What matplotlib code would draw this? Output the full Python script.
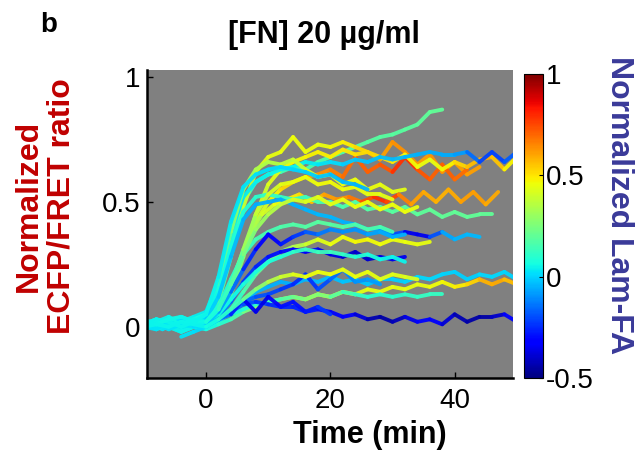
import numpy as np
import matplotlib
matplotlib.use("Agg")
import matplotlib.pyplot as plt
from matplotlib.collections import LineCollection
from matplotlib.colors import Normalize
from matplotlib.cm import ScalarMappable

plt.rcParams["font.family"] = ["Liberation Sans", "DejaVu Sans"]

# time step between frames (min)
STEP = 2.0

# first time point of each cell trace (min)
START_MIN = [-10, -10, -10, -10, -10, -10, -9, -10, -10, -10, -10, -10,
             -10, -10, -10, -10, -10, -10, -10, -4, -10, -10, -10, -10]

# normalized ECFP/FRET ratio per cell, one value per frame
RATIO = [
    [0.02, 0.00, 0.03, 0.01, 0.02, 0.04, 0.14, 0.33, 0.50, 0.58, 0.61, 0.62, 0.64, 0.63, 0.66,
     0.68, 0.70, 0.72, 0.74, 0.76, 0.77, 0.79, 0.81, 0.86, 0.87],
    [0.00, 0.02, 0.01, 0.03, 0.01, 0.03, 0.10, 0.28, 0.48, 0.62, 0.68, 0.70, 0.76, 0.70, 0.73,
     0.72, 0.74, 0.72, 0.70, 0.67, 0.74, 0.70, 0.65, 0.69, 0.62, 0.66, 0.61, 0.64],
    [-0.01, 0.01, 0.00, 0.02, 0.00, 0.01, 0.05, 0.15, 0.30, 0.42, 0.50, 0.55, 0.58, 0.60, 0.61,
     0.63, 0.60, 0.68, 0.62, 0.65, 0.62, 0.68, 0.63, 0.59, 0.65, 0.59, 0.63],
    [0.01, 0.03, 0.00, 0.02, 0.03, 0.02, 0.05, 0.13, 0.28, 0.45, 0.57, 0.63, 0.66, 0.68, 0.70,
     0.68, 0.71, 0.69, 0.70, 0.68, 0.66, 0.69, 0.64, 0.67, 0.63, 0.66, 0.64, 0.67, 0.68, 0.63, 0.68],
    [0.02, 0.01, 0.03, 0.02, 0.04, 0.06, 0.18, 0.38, 0.52, 0.58, 0.61, 0.63, 0.64, 0.66, 0.65,
     0.66, 0.65, 0.67, 0.66, 0.68, 0.67, 0.68, 0.69, 0.70, 0.69, 0.69, 0.70, 0.66, 0.70, 0.66, 0.70],
    [0.00, 0.02, 0.04, 0.01, 0.03, 0.05, 0.17, 0.38, 0.55, 0.63, 0.66, 0.65, 0.67, 0.63, 0.60,
     0.61, 0.57, 0.59, 0.55, 0.57, 0.54, 0.55],
    [0.01, -0.01, 0.02, 0.00, 0.02, 0.03, 0.10, 0.24, 0.37, 0.45, 0.49, 0.51, 0.53, 0.50, 0.53,
     0.51, 0.52, 0.50, 0.52, 0.50, 0.53, 0.49, 0.54, 0.50, 0.55, 0.50, 0.54, 0.49, 0.54],
    [0.03, 0.01, 0.02, 0.04, 0.02, 0.04, 0.14, 0.32, 0.46, 0.52, 0.53, 0.52, 0.51, 0.52, 0.50,
     0.50, 0.48, 0.50, 0.47, 0.48, 0.46, 0.48, 0.45, 0.47, 0.44, 0.46, 0.44, 0.45, 0.45],
    [0.00, -0.01, 0.01, 0.00, 0.02, 0.01, 0.06, 0.16, 0.31, 0.45, 0.53, 0.57, 0.58, 0.60, 0.57,
     0.58, 0.55, 0.56, 0.53, 0.53, 0.51],
    [0.01, 0.03, 0.01, 0.00, 0.02, 0.03, 0.12, 0.28, 0.43, 0.49, 0.50, 0.51, 0.49, 0.47, 0.45,
     0.44, 0.42, 0.41, 0.39, 0.39, 0.37, 0.38, 0.37, 0.36, 0.38, 0.35, 0.37, 0.36],
    [-0.01, 0.01, 0.00, -0.02, 0.00, 0.00, 0.03, 0.07, 0.14, 0.21, 0.26, 0.30, 0.32, 0.33, 0.35,
     0.33, 0.36, 0.34, 0.35, 0.33, 0.35, 0.34, 0.33, 0.34],
    [0.02, 0.00, 0.01, 0.03, 0.01, 0.01, 0.04, 0.10, 0.18, 0.24, 0.28, 0.30, 0.31, 0.30, 0.31,
     0.29, 0.28, 0.30, 0.27, 0.28, 0.27, 0.28],
    [0.00, 0.02, 0.03, 0.01, 0.03, 0.02, 0.05, 0.11, 0.17, 0.22, 0.26, 0.28, 0.30, 0.31, 0.30,
     0.30, 0.29, 0.28, 0.29, 0.27, 0.28, 0.26],
    [0.01, 0.02, 0.00, 0.02, 0.01, 0.02, 0.08, 0.19, 0.29, 0.35, 0.38, 0.40, 0.41, 0.40, 0.42,
     0.41, 0.40, 0.41, 0.39, 0.40, 0.38],
    [0.00, 0.02, 0.01, -0.01, 0.01, 0.00, 0.02, 0.06, 0.10, 0.14, 0.16, 0.18, 0.17, 0.19, 0.18,
     0.20, 0.18, 0.19, 0.17, 0.19, 0.19, 0.18, 0.20, 0.19, 0.21, 0.22, 0.19, 0.21, 0.20, 0.22, 0.19],
    [-0.01, 0.01, 0.00, -0.02, 0.00, -0.01, 0.01, 0.03, 0.06, 0.08, 0.10, 0.11, 0.12, 0.11, 0.13,
     0.12, 0.14, 0.13, 0.15, 0.14, 0.16, 0.15, 0.17, 0.16, 0.18, 0.16, 0.17, 0.19, 0.17, 0.19, 0.17],
    [0.02, 0.00, 0.02, 0.01, 0.00, 0.02, 0.03, 0.05, 0.07, 0.09, 0.10, 0.11, 0.12, 0.11, 0.13,
     0.12, 0.14, 0.13, 0.12, 0.13, 0.12, 0.13, 0.12, 0.13, 0.13],
    [0.01, 0.00, 0.02, 0.00, 0.01, 0.01, 0.03, 0.06, 0.10, 0.12, 0.13, 0.15, 0.17, 0.21, 0.15,
     0.19, 0.23, 0.18, 0.19, 0.17],
    [0.01, -0.01, 0.02, 0.00, 0.01, 0.01, 0.03, 0.06, 0.09, 0.10, 0.09, 0.08, 0.08, 0.06, 0.07,
     0.06, 0.04, 0.05, 0.03, 0.04, 0.02, 0.04, 0.02, 0.03, 0.01, 0.05, 0.02, 0.04, 0.04, 0.05, 0.02],
    [-0.04, -0.02, 0.00, 0.03, 0.05, 0.11, 0.06, 0.12, 0.08, 0.10, 0.06, 0.08, 0.05],
    [0.00, 0.01, -0.01, 0.01, 0.00, 0.01, 0.06, 0.14, 0.23, 0.31, 0.37, 0.33, 0.36, 0.38, 0.37,
     0.39, 0.38, 0.39, 0.37, 0.38, 0.36, 0.37],
    [0.01, 0.03, 0.02, 0.00, 0.02, 0.02, 0.07, 0.17, 0.29, 0.39, 0.45, 0.49, 0.51, 0.50, 0.52,
     0.49, 0.51, 0.48, 0.50, 0.47, 0.49, 0.46, 0.48],
    [0.02, 0.01, 0.03, 0.04, 0.02, 0.05, 0.20, 0.42, 0.56, 0.61, 0.63, 0.64, 0.63, 0.62, 0.60,
     0.61, 0.58, 0.57, 0.55],
    [0.00, 0.01, 0.00, 0.02, 0.01, 0.00, 0.03, 0.07, 0.11, 0.15, 0.18, 0.20, 0.21, 0.20, 0.22,
     0.21, 0.23, 0.20, 0.22, 0.19, 0.21, 0.20, 0.19],
]

# normalized Lam-FA per cell, one value per frame (colour of the trace)
LAMFA = [
    [0.02, 0.04, 0.03, 0.05, 0.05, 0.05, 0.06, 0.08, 0.10, 0.12, 0.14, 0.15, 0.15, 0.16, 0.16,
     0.17, 0.17, 0.18, 0.18, 0.18, 0.18, 0.19, 0.19, 0.20, 0.20],
    [0.03, 0.05, 0.04, 0.05, 0.06, 0.08, 0.15, 0.25, 0.35, 0.42, 0.44, 0.45, 0.46, 0.46, 0.45,
     0.46, 0.48, 0.50, 0.55, 0.60, 0.62, 0.65, 0.60, 0.62, 0.65, 0.60, 0.62, 0.60],
    [0.00, 0.02, 0.03, 0.02, 0.04, 0.05, 0.10, 0.18, 0.28, 0.38, 0.45, 0.50, 0.55, 0.60, 0.62,
     0.65, 0.68, 0.70, 0.72, 0.70, 0.75, 0.82, 0.75, 0.70, 0.72, 0.70, 0.68],
    [0.04, 0.05, 0.05, 0.06, 0.05, 0.07, 0.12, 0.20, 0.30, 0.38, 0.42, 0.45, 0.46, 0.47, 0.48,
     0.48, 0.50, 0.50, 0.52, 0.52, 0.50, 0.48, 0.45, 0.45, 0.44, 0.50, 0.55, 0.58, 0.60, 0.50, 0.45],
    [0.03, 0.05, 0.04, 0.05, 0.04, 0.03, 0.02, 0.02, 0.03, 0.04, 0.04, 0.05, 0.05, 0.04, 0.03,
     0.02, 0.00, -0.02, -0.03, -0.03, -0.04, -0.04, -0.05, -0.05, -0.06, -0.06, -0.10, -0.20, -0.22, -0.20, -0.15],
    [0.03, 0.05, 0.04, 0.06, 0.05, 0.08, 0.15, 0.25, 0.30, 0.33, 0.35, 0.36, 0.38, 0.40, 0.42,
     0.44, 0.45, 0.45, 0.46, 0.45, 0.44, 0.44],
    [0.00, 0.02, 0.03, 0.02, 0.04, 0.06, 0.12, 0.20, 0.30, 0.38, 0.44, 0.48, 0.50, 0.55, 0.60,
     0.62, 0.65, 0.70, 0.78, 0.80, 0.70, 0.62, 0.60, 0.58, 0.58, 0.60, 0.62, 0.60, 0.58],
    [0.04, 0.05, 0.04, 0.05, 0.05, 0.05, 0.06, 0.07, 0.08, 0.10, 0.11, 0.12, 0.12, 0.13, 0.14,
     0.15, 0.16, 0.17, 0.17, 0.18, 0.18, 0.19, 0.19, 0.20, 0.20, 0.20, 0.20, 0.20, 0.20],
    [0.02, 0.03, 0.05, 0.04, 0.05, 0.06, 0.10, 0.18, 0.28, 0.36, 0.40, 0.43, 0.45, 0.46, 0.46,
     0.47, 0.46, 0.45, 0.45, 0.44, 0.44],
    [0.03, 0.02, 0.04, 0.03, 0.02, 0.00, -0.02, -0.03, -0.05, -0.05, -0.06, -0.06, -0.05, -0.05, -0.04,
     -0.04, -0.05, -0.05, -0.06, -0.08, -0.10, -0.30, -0.40, -0.30, -0.08, -0.05, -0.04, -0.04],
    [0.03, 0.04, 0.05, 0.04, 0.05, 0.06, 0.08, 0.10, 0.14, 0.18, 0.22, 0.28, 0.33, 0.38, 0.42,
     0.45, 0.46, 0.47, 0.47, 0.46, 0.46, 0.45, 0.45, 0.44],
    [0.00, 0.02, 0.01, 0.02, 0.00, -0.02, -0.08, -0.15, -0.20, -0.25, -0.28, -0.30, -0.32, -0.33, -0.35,
     -0.36, -0.38, -0.40, -0.40, -0.38, -0.36, -0.34],
    [0.05, 0.04, 0.05, 0.06, 0.05, 0.05, 0.06, 0.06, 0.07, 0.08, 0.08, 0.08, 0.10, 0.12, 0.13,
     0.14, 0.12, 0.10, 0.08, 0.06, 0.05, 0.04],
    [0.05, 0.05, 0.06, 0.05, 0.06, 0.07, 0.08, 0.10, 0.12, 0.14, 0.15, 0.16, 0.17, 0.17, 0.18,
     0.18, 0.17, 0.17, 0.16, 0.16, 0.15],
    [0.04, 0.05, 0.04, 0.05, 0.03, 0.02, 0.00, -0.02, -0.03, -0.04, -0.05, -0.05, -0.05, -0.04, -0.04,
     -0.03, -0.03, -0.02, -0.02, -0.02, -0.01, 0.00, 0.00, 0.01, 0.00, 0.00, -0.01, 0.00, 0.01, 0.00, 0.00],
    [0.03, 0.04, 0.03, 0.05, 0.04, 0.05, 0.08, 0.12, 0.20, 0.28, 0.34, 0.38, 0.42, 0.44, 0.45,
     0.45, 0.45, 0.44, 0.44, 0.45, 0.45, 0.44, 0.45, 0.46, 0.46, 0.48, 0.50, 0.56, 0.60, 0.58, 0.55],
    [0.04, 0.05, 0.05, 0.06, 0.05, 0.06, 0.06, 0.07, 0.08, 0.10, 0.12, 0.15, 0.20, 0.25, 0.28,
     0.22, 0.15, 0.12, 0.10, 0.10, 0.10, 0.10, 0.12, 0.12, 0.12],
    [0.02, 0.03, 0.02, 0.03, 0.02, 0.00, -0.05, -0.10, -0.15, -0.18, -0.20, -0.22, -0.25, -0.25, -0.22,
     -0.18, -0.12, -0.10, -0.08, -0.08],
    [0.02, 0.03, 0.02, 0.04, 0.03, 0.00, -0.05, -0.12, -0.18, -0.22, -0.25, -0.25, -0.26, -0.27, -0.28,
     -0.30, -0.32, -0.34, -0.42, -0.45, -0.44, -0.40, -0.32, -0.30, -0.35, -0.42, -0.44, -0.45, -0.44, -0.35, -0.30],
    [0.03, 0.02, 0.00, -0.10, -0.20, -0.32, -0.38, -0.35, -0.30, -0.28, -0.30, -0.25, -0.20],
    [0.02, 0.03, 0.02, 0.03, 0.02, 0.00, -0.05, -0.12, -0.20, -0.30, -0.35, -0.30, -0.25, -0.20, -0.15,
     -0.12, -0.10, -0.10, -0.08, -0.06, -0.05, -0.05],
    [0.04, 0.05, 0.04, 0.05, 0.05, 0.06, 0.10, 0.16, 0.22, 0.28, 0.33, 0.37, 0.40, 0.42, 0.43,
     0.44, 0.44, 0.45, 0.45, 0.46, 0.46, 0.45, 0.45],
    [0.04, 0.05, 0.06, 0.05, 0.05, 0.05, 0.04, 0.03, 0.02, 0.02, 0.02, 0.01, 0.00, 0.00, -0.02,
     -0.03, -0.04, -0.04, -0.05],
    [0.04, 0.05, 0.04, 0.05, 0.04, 0.05, 0.08, 0.12, 0.18, 0.25, 0.32, 0.38, 0.42, 0.45, 0.45,
     0.46, 0.46, 0.45, 0.45, 0.44, 0.44, 0.43, 0.42],
]

X_TICKS = [0, 20, 40]
Y_TICKS = [0, 0.5, 1]
Y_TICK_LABELS = ["0", "0.5", "1"]
CBAR_TICKS = [-0.5, 0, 0.5, 1]
CBAR_TICK_LABELS = ["-0.5", "0", "0.5", "1"]

RED = "#C00000"
BLUE = "#3a3a99"

fig = plt.figure(figsize=(6.4, 4.63), dpi=100)
ax = fig.add_axes([0.2297, 0.1836, 0.572, 0.665])
cax = fig.add_axes([0.8188, 0.1836, 0.0297, 0.6566])

norm = Normalize(vmin=-0.5, vmax=1.0)
cmap = plt.get_cmap("jet")

for t0, ratio, lamfa in zip(START_MIN, RATIO, LAMFA):
    y = np.asarray(ratio, dtype=float)
    c = np.asarray(lamfa, dtype=float)
    t = t0 + STEP * np.arange(len(y))
    pts = np.column_stack([t, y]).reshape(-1, 1, 2)
    segs = np.concatenate([pts[:-1], pts[1:]], axis=1)
    lc = LineCollection(segs, cmap=cmap, norm=norm, linewidths=2.8,
                        capstyle="round", joinstyle="round", alpha=0.95)
    lc.set_array(0.5 * (c[:-1] + c[1:]))
    ax.add_collection(lc)

ax.set_facecolor("#808080")
ax.set_xlim(-9.5, 49.4)
ax.set_ylim(-0.205, 1.028)
ax.set_xticks(X_TICKS)
ax.set_yticks(Y_TICKS)
ax.set_yticklabels(Y_TICK_LABELS)
ax.tick_params(direction="in", labelsize=20, length=4, width=1.0)
ax.tick_params(axis="x", pad=7)
ax.tick_params(axis="y", pad=5)
for side in ("top", "right"):
    ax.spines[side].set_visible(False)
for side in ("left", "bottom"):
    ax.spines[side].set_linewidth(1.8)

sm = ScalarMappable(norm=norm, cmap=cmap)
cb = fig.colorbar(sm, cax=cax, ticks=CBAR_TICKS)
cb.ax.set_yticklabels(CBAR_TICK_LABELS)
cb.ax.tick_params(direction="in", labelsize=20, length=3, width=0.8, pad=2)
cb.outline.set_linewidth(0.8)

fig.text(45 / 640, 1 - 206 / 463, "Normalized\nECFP/FRET ratio", rotation=90,
         ha="center", va="center", multialignment="center", color=RED,
         fontsize=23, fontweight="bold", linespacing=1.1)
fig.text(619 / 640, 1 - 205 / 463, "Normalized Lam-FA", rotation=-90,
         ha="center", va="center", color=BLUE, fontsize=23, fontweight="bold")
fig.text(324 / 640, 1 - 43 / 463, "[FN] 20 µg/ml", ha="center", va="baseline",
         fontsize=22, fontweight="bold")
fig.text(49 / 640, 1 - 32 / 463, "b", ha="center", va="baseline",
         fontsize=20, fontweight="bold")
fig.text(370 / 640, 1 - 443 / 463, "Time (min)", ha="center", va="baseline",
         fontsize=22, fontweight="bold")

fig.savefig("out.png", dpi=100)
